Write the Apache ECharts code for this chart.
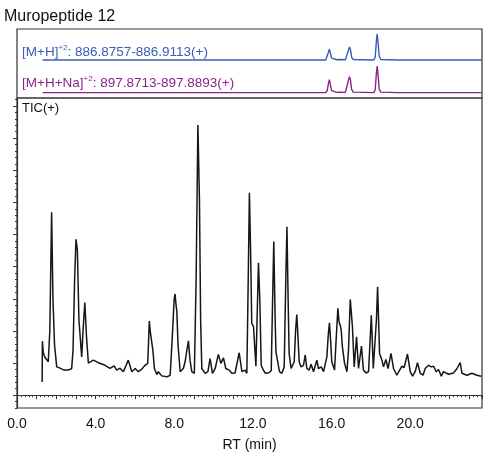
<!DOCTYPE html>
<html>
<head>
<meta charset="utf-8">
<script src="https://cdn.jsdelivr.net/npm/echarts@6/dist/echarts.min.js"></script>
<style>
  html, body { margin: 0; padding: 0; background: #fff; }
  #chart { width: 492px; height: 458px; }
</style>
</head>
<body>
<div id="chart"></div>
<script>
// Extracted ion chromatogram [M+H]2+ (normalised intensity)
const mhTime      = [1.30, 5.00, 10.00, 12.34, 12.42, 12.50, 15.70, 15.78, 15.84, 15.89, 15.94, 16.00, 16.08, 16.26, 16.34, 16.42, 16.70, 16.78, 16.85, 16.91, 16.96, 17.02, 17.10, 17.20, 18.15, 18.22, 18.28, 18.32, 18.36, 18.42, 18.50, 18.60, 19.36, 19.44, 19.52, 19.95, 20.02, 20.10, 23.65];
const mhIntensity = [0.00, 0.00, 0.00,  0.00,  0.04,  0.00,  0.00,  0.06,  0.30,  0.42,  0.26,  0.07,  0.01,  0.01,  0.07,  0.02,  0.01,  0.06,  0.36,  0.50,  0.40,  0.10,  0.02,  0.00,  0.00,  0.12,  0.75,  1.00,  0.70,  0.15,  0.02,  0.00,  0.00,  0.03,  0.00,  0.00,  0.015, 0.00,  0.00];

// Extracted ion chromatogram [M+H+Na]2+ (normalised intensity)
const naTime      = [1.30, 5.00, 10.00, 12.22, 12.30, 12.38, 15.70, 15.78, 15.84, 15.89, 15.94, 16.00, 16.08, 16.26, 16.34, 16.42, 16.70, 16.78, 16.85, 16.91, 16.96, 17.02, 17.10, 17.20, 18.15, 18.22, 18.28, 18.32, 18.36, 18.42, 18.50, 18.60, 19.36, 19.44, 19.52, 23.65];
const naIntensity = [0.00, 0.00, 0.00,  0.00,  0.05,  0.00,  0.00,  0.08,  0.35,  0.49,  0.30,  0.08,  0.01,  0.01,  0.08,  0.02,  0.01,  0.08,  0.45,  0.60,  0.48,  0.12,  0.02,  0.00,  0.00,  0.12,  0.75,  1.00,  0.70,  0.15,  0.02,  0.00,  0.00,  0.04,  0.00,  0.00];

// Total ion current (arbitrary units)
const ticTime = [1.28, 1.29, 1.34, 1.42, 1.59, 1.67, 1.76, 1.83, 1.91, 2.02, 2.19, 2.39, 2.61, 2.78, 2.85, 2.93, 3.00, 3.07, 3.15, 3.29,
  3.36, 3.45, 3.53, 3.63, 3.88, 4.14, 4.48, 4.73, 4.94, 5.07, 5.24, 5.41, 5.66, 5.84, 6.01, 6.17, 6.35, 6.51, 6.65, 6.73,
  6.78, 6.83, 6.91, 6.99, 7.11, 7.19, 7.36, 7.62, 7.79, 7.89, 7.99, 8.04, 8.09, 8.13, 8.19, 8.30, 8.46, 8.55, 8.64, 8.72,
  8.80, 8.89, 9.02, 9.11, 9.20, 9.28, 9.34, 9.40, 9.57, 9.71, 9.82, 9.94, 10.08, 10.24, 10.37, 10.50, 10.62, 10.79, 10.93, 11.09,
  11.30, 11.44, 11.60, 11.69, 11.76, 11.82, 11.88, 11.94, 12.03, 12.15, 12.21, 12.28, 12.35, 12.42, 12.53, 12.62, 12.79, 12.93, 13.00, 13.06,
  13.13, 13.17, 13.25, 13.35, 13.47, 13.59, 13.67, 13.73, 13.79, 13.84, 13.94, 14.10, 14.17, 14.23, 14.30, 14.35, 14.45, 14.57, 14.66, 14.74,
  14.86, 14.96, 15.08, 15.25, 15.33, 15.47, 15.59, 15.76, 15.83, 15.89, 15.95, 16.01, 16.15, 16.23, 16.32, 16.38, 16.44, 16.49, 16.55, 16.66,
  16.78, 16.86, 16.95, 17.06, 17.15, 17.27, 17.37, 17.52, 17.62, 17.75, 17.88, 17.96, 18.02, 18.07, 18.12, 18.22, 18.28, 18.34, 18.39, 18.44,
  18.56, 18.64, 18.76, 18.87, 19.02, 19.15, 19.32, 19.46, 19.58, 19.69, 19.86, 20.00, 20.12, 20.25, 20.37, 20.51, 20.65, 20.76, 20.93, 21.07,
  21.19, 21.32, 21.44, 21.58, 21.69, 21.95, 22.20, 22.38, 22.54, 22.63, 22.88, 23.14, 23.22, 23.39, 23.61];
const ticIntensity = [0.41, 1.68, 1.31, 1.18, 1.04, 2.02, 5.69, 2.96, 1.56, 0.88, 0.84, 0.78, 0.78, 0.83, 1.40, 3.58, 4.85, 4.52, 2.34, 1.19,
  2.02, 2.88, 1.87, 1.00, 1.09, 1.01, 0.93, 0.83, 0.91, 0.78, 0.84, 0.73, 1.09, 0.73, 0.83, 0.73, 0.81, 0.93, 0.99, 2.31,
  1.97, 2.02, 1.40, 0.83, 0.64, 0.73, 0.60, 0.57, 0.62, 1.71, 2.96, 3.15, 2.80, 2.60, 1.56, 0.73, 0.83, 1.04, 1.40, 1.69,
  1.09, 0.73, 0.68, 3.58, 8.41, 6.07, 2.34, 0.83, 0.68, 0.73, 1.14, 0.68, 0.83, 1.27, 0.99, 1.16, 0.83, 0.78, 0.68, 0.69,
  1.32, 0.73, 0.78, 0.68, 3.58, 6.30, 4.52, 2.23, 2.13, 0.90, 2.34, 4.12, 2.96, 0.93, 0.78, 0.69, 0.69, 0.76, 2.96, 4.78,
  2.34, 1.35, 1.30, 0.73, 0.68, 0.88, 3.58, 5.24, 2.96, 1.30, 0.83, 1.04, 2.02, 2.51, 1.71, 1.04, 0.88, 0.93, 1.25, 0.83,
  0.78, 0.96, 0.73, 1.09, 0.83, 0.88, 0.73, 1.19, 1.87, 2.25, 1.71, 1.04, 0.78, 1.71, 2.70, 2.27, 2.18, 2.02, 1.50, 0.99,
  0.73, 1.40, 2.98, 2.13, 0.88, 1.82, 0.83, 1.53, 0.78, 0.69, 0.73, 1.71, 2.49, 1.71, 0.83, 0.88, 2.34, 3.37, 2.34, 1.30,
  1.09, 0.88, 1.11, 0.83, 1.30, 0.83, 0.62, 0.78, 0.90, 0.86, 1.28, 0.73, 0.59, 0.73, 1.01, 0.68, 0.62, 0.83, 0.93, 0.88,
  0.90, 0.73, 0.80, 0.59, 0.73, 0.65, 0.69, 0.83, 1.01, 0.68, 0.62, 0.68, 0.73, 0.62, 0.59];

// Axis ranges and tick values
const rtMax = 23.65;
const ticMajorTicks = [0, 1, 2, 3, 4, 5, 6, 7, 8, 9];
const ticMinorTicks = [];
for (let i = -2; i <= 46; i++) { if (i % 5 !== 0) ticMinorTicks.push(i / 5); }

const FONT = '"Liberation Sans", Arial, Helvetica, sans-serif';
const AXIS_COLOR = '#333';
const BLUE = '#3a5cb6';
const PURPLE = '#8c238d';

const zip = (xs, ys) => xs.map((x, i) => [x, ys[i]]);

const chart = echarts.init(document.getElementById('chart'), null, { renderer: 'canvas' });

chart.setOption({
  animation: false,
  backgroundColor: '#fff',
  title: {
    text: 'Muropeptide 12',
    left: 4, top: 9, padding: 0,
    textStyle: { fontFamily: FONT, fontSize: 16, fontWeight: 'normal', color: '#111' }
  },
  grid: [
    { left: 17, right: 10, top: 29, height: 69, show: true, borderColor: AXIS_COLOR, borderWidth: 1.2, outerBoundsMode: 'none' },
    { left: 17, right: 10, top: 98, height: 310, show: true, borderColor: AXIS_COLOR, borderWidth: 1.2, outerBoundsMode: 'none' }
  ],
  xAxis: [
    { type: 'value', gridIndex: 0, min: 0, max: rtMax, show: false },
    {
      type: 'value', gridIndex: 1, min: 0, max: rtMax, interval: 1,
      axisLine: { show: true, lineStyle: { color: AXIS_COLOR, width: 1.2 } },
      axisTick: { show: true, length: 4, lineStyle: { color: AXIS_COLOR, width: 1 } },
      minorTick: { show: true, splitNumber: 5, length: 2, lineStyle: { color: AXIS_COLOR, width: 1 } },
      splitLine: { show: false },
      minorSplitLine: { show: false },
      axisLabel: {
        margin: 9, fontFamily: FONT, fontSize: 14, color: '#111',
        formatter: v => (Math.abs(v % 4) < 1e-6 && v <= 20 ? v.toFixed(1) : '')
      },
      name: 'RT (min)', nameLocation: 'middle', nameGap: 30,
      nameTextStyle: { fontFamily: FONT, fontSize: 14, color: '#111' }
    }
  ],
  yAxis: [
    { type: 'value', gridIndex: 0, min: -1.46, max: 1.19, show: false, position: 'left' },
    { type: 'value', gridIndex: 0, min: -0.2, max: 2.39, show: false, position: 'right' },
    {
      type: 'value', gridIndex: 1, min: -0.4, max: 9.25, position: 'left',
      axisLine: { show: true, lineStyle: { color: AXIS_COLOR, width: 1.2 } },
      axisTick: { show: true, length: 4, customValues: ticMajorTicks, lineStyle: { color: AXIS_COLOR, width: 1 } },
      axisLabel: { show: false },
      splitLine: { show: false }
    },
    {
      type: 'value', gridIndex: 1, min: -0.4, max: 9.25, position: 'left',
      axisLine: { show: false },
      axisTick: { show: true, length: 2, customValues: ticMinorTicks, lineStyle: { color: AXIS_COLOR, width: 1 } },
      axisLabel: { show: false },
      splitLine: { show: false }
    }
  ],
  graphic: [
    {
      type: 'text', left: 22, top: 44,
      style: {
        text: '{a|[M+H]}{s|+2}{a|: 886.8757-886.9113(+)}',
        rich: {
          a: { fontFamily: FONT, fontSize: 13.5, fill: BLUE, lineHeight: 15, verticalAlign: 'bottom' },
          s: { fontFamily: FONT, fontSize: 8, fill: BLUE, lineHeight: 15, verticalAlign: 'top' }
        }
      }
    },
    {
      type: 'text', left: 22, top: 75,
      style: {
        text: '{a|[M+H+Na]}{s|+2}{a|: 897.8713-897.8893(+)}',
        rich: {
          a: { fontFamily: FONT, fontSize: 13.5, fill: PURPLE, lineHeight: 15, verticalAlign: 'bottom' },
          s: { fontFamily: FONT, fontSize: 8, fill: PURPLE, lineHeight: 15, verticalAlign: 'top' }
        }
      }
    },
    {
      type: 'text', left: 22, top: 102,
      style: { text: 'TIC(+)', font: '13px ' + FONT, fill: '#111' }
    }
  ],
  series: [
    {
      name: '[M+H]+2', type: 'line', xAxisIndex: 0, yAxisIndex: 0,
      data: zip(mhTime, mhIntensity), showSymbol: false, silent: true,
      lineStyle: { color: BLUE, width: 1.4 }
    },
    {
      name: '[M+H+Na]+2', type: 'line', xAxisIndex: 0, yAxisIndex: 1,
      data: zip(naTime, naIntensity), showSymbol: false, silent: true,
      lineStyle: { color: PURPLE, width: 1.4 }
    },
    {
      name: 'TIC(+)', type: 'line', xAxisIndex: 1, yAxisIndex: 2,
      data: zip(ticTime, ticIntensity), showSymbol: false, silent: true,
      lineStyle: { color: '#161616', width: 1.5 }
    }
  ]
});
</script>
</body>
</html>
